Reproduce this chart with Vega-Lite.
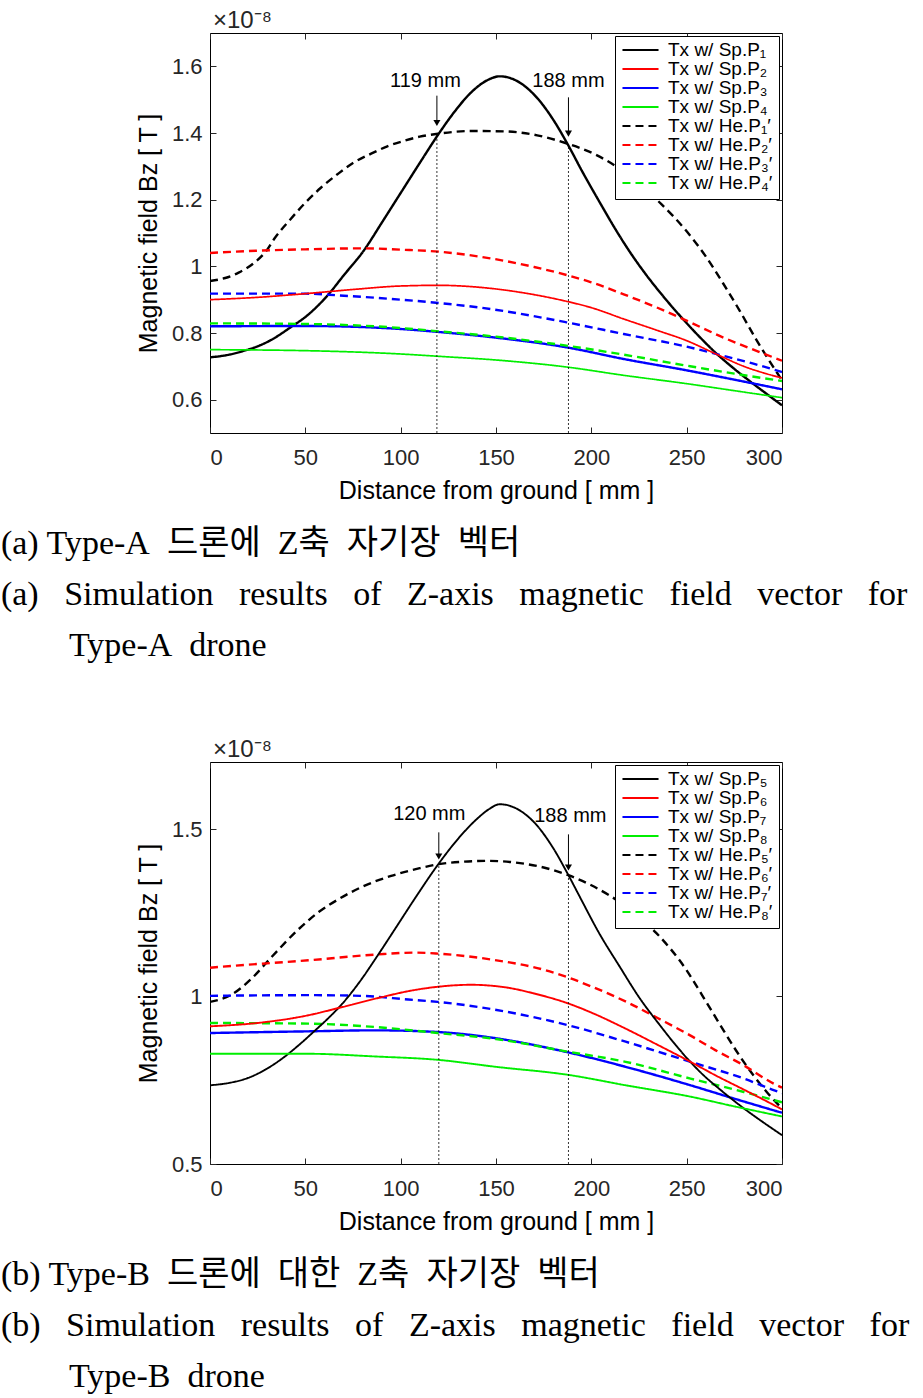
{
  "$schema": "https://vega.github.io/schema/vega-lite/v6.json",
  "background": "white",
  "padding": {"left": 0, "top": 8, "right": 4, "bottom": 0},
  "config": {
    "view": {"stroke": "#000", "strokeWidth": 1},
    "font": "Liberation Sans",
    "axis": {"grid": false, "domain": false, "labelFont": "Liberation Sans", "labelFontSize": 22, "labelColor": "#262626", "titleFont": "Liberation Sans", "titleFontSize": 25, "titleFontWeight": "normal", "titleColor": "#000", "tickColor": "#262626", "tickSize": -6},
    "legend": {"orient": "top-right", "offset": 3, "title": null, "strokeColor": "#000", "fillColor": "#fff", "padding": 6, "labelFont": "Liberation Sans", "labelFontSize": 19, "labelColor": "#000", "symbolType": "stroke", "symbolSize": 1300, "symbolStrokeWidth": 2.2, "clipHeight": 16, "rowPadding": 0, "labelOffset": 8, "cornerRadius": 0}
  },
  "datasets": {
    "A": [
      {"s": "Tx w/ Sp.P₁", "x": 0, "y": 0.727}, {"s": "Tx w/ Sp.P₁", "x": 10, "y": 0.735}, {"s": "Tx w/ Sp.P₁", "x": 18, "y": 0.747}, {"s": "Tx w/ Sp.P₁", "x": 25, "y": 0.76}, {"s": "Tx w/ Sp.P₁", "x": 32, "y": 0.779}, {"s": "Tx w/ Sp.P₁", "x": 43, "y": 0.82}, {"s": "Tx w/ Sp.P₁", "x": 50, "y": 0.848}, {"s": "Tx w/ Sp.P₁", "x": 62, "y": 0.915}, {"s": "Tx w/ Sp.P₁", "x": 70, "y": 0.972}, {"s": "Tx w/ Sp.P₁", "x": 81, "y": 1.05}, {"s": "Tx w/ Sp.P₁", "x": 90, "y": 1.13}, {"s": "Tx w/ Sp.P₁", "x": 100, "y": 1.22}, {"s": "Tx w/ Sp.P₁", "x": 110, "y": 1.31}, {"s": "Tx w/ Sp.P₁", "x": 120, "y": 1.398}, {"s": "Tx w/ Sp.P₁", "x": 128, "y": 1.462}, {"s": "Tx w/ Sp.P₁", "x": 137, "y": 1.522}, {"s": "Tx w/ Sp.P₁", "x": 145, "y": 1.557}, {"s": "Tx w/ Sp.P₁", "x": 152, "y": 1.57}, {"s": "Tx w/ Sp.P₁", "x": 160, "y": 1.559}, {"s": "Tx w/ Sp.P₁", "x": 171.6, "y": 1.505}, {"s": "Tx w/ Sp.P₁", "x": 180, "y": 1.44}, {"s": "Tx w/ Sp.P₁", "x": 188, "y": 1.362}, {"s": "Tx w/ Sp.P₁", "x": 195, "y": 1.287}, {"s": "Tx w/ Sp.P₁", "x": 204.7, "y": 1.189}, {"s": "Tx w/ Sp.P₁", "x": 213, "y": 1.108}, {"s": "Tx w/ Sp.P₁", "x": 220, "y": 1.045}, {"s": "Tx w/ Sp.P₁", "x": 227, "y": 0.988}, {"s": "Tx w/ Sp.P₁", "x": 238, "y": 0.908}, {"s": "Tx w/ Sp.P₁", "x": 248, "y": 0.842}, {"s": "Tx w/ Sp.P₁", "x": 257, "y": 0.787}, {"s": "Tx w/ Sp.P₁", "x": 265.5, "y": 0.739}, {"s": "Tx w/ Sp.P₁", "x": 274, "y": 0.697}, {"s": "Tx w/ Sp.P₁", "x": 283, "y": 0.656}, {"s": "Tx w/ Sp.P₁", "x": 292, "y": 0.617}, {"s": "Tx w/ Sp.P₁", "x": 300, "y": 0.583},
      {"s": "Tx w/ Sp.P₂", "x": 0, "y": 0.9}, {"s": "Tx w/ Sp.P₂", "x": 25, "y": 0.907}, {"s": "Tx w/ Sp.P₂", "x": 50, "y": 0.918}, {"s": "Tx w/ Sp.P₂", "x": 76, "y": 0.931}, {"s": "Tx w/ Sp.P₂", "x": 100, "y": 0.941}, {"s": "Tx w/ Sp.P₂", "x": 120, "y": 0.943}, {"s": "Tx w/ Sp.P₂", "x": 147, "y": 0.934}, {"s": "Tx w/ Sp.P₂", "x": 170, "y": 0.915}, {"s": "Tx w/ Sp.P₂", "x": 187, "y": 0.895}, {"s": "Tx w/ Sp.P₂", "x": 200, "y": 0.876}, {"s": "Tx w/ Sp.P₂", "x": 217, "y": 0.842}, {"s": "Tx w/ Sp.P₂", "x": 235, "y": 0.807}, {"s": "Tx w/ Sp.P₂", "x": 250, "y": 0.777}, {"s": "Tx w/ Sp.P₂", "x": 265, "y": 0.738}, {"s": "Tx w/ Sp.P₂", "x": 280, "y": 0.7}, {"s": "Tx w/ Sp.P₂", "x": 300, "y": 0.665},
      {"s": "Tx w/ Sp.P₃", "x": 0, "y": 0.82}, {"s": "Tx w/ Sp.P₃", "x": 50, "y": 0.821}, {"s": "Tx w/ Sp.P₃", "x": 100, "y": 0.812}, {"s": "Tx w/ Sp.P₃", "x": 120, "y": 0.803}, {"s": "Tx w/ Sp.P₃", "x": 150, "y": 0.786}, {"s": "Tx w/ Sp.P₃", "x": 187, "y": 0.757}, {"s": "Tx w/ Sp.P₃", "x": 217, "y": 0.722}, {"s": "Tx w/ Sp.P₃", "x": 250, "y": 0.688}, {"s": "Tx w/ Sp.P₃", "x": 275, "y": 0.66}, {"s": "Tx w/ Sp.P₃", "x": 300, "y": 0.631},
      {"s": "Tx w/ Sp.P₄", "x": 0, "y": 0.75}, {"s": "Tx w/ Sp.P₄", "x": 50, "y": 0.747}, {"s": "Tx w/ Sp.P₄", "x": 100, "y": 0.737}, {"s": "Tx w/ Sp.P₄", "x": 120, "y": 0.73}, {"s": "Tx w/ Sp.P₄", "x": 150, "y": 0.719}, {"s": "Tx w/ Sp.P₄", "x": 187, "y": 0.698}, {"s": "Tx w/ Sp.P₄", "x": 217, "y": 0.673}, {"s": "Tx w/ Sp.P₄", "x": 250, "y": 0.648}, {"s": "Tx w/ Sp.P₄", "x": 275, "y": 0.627}, {"s": "Tx w/ Sp.P₄", "x": 300, "y": 0.606},
      {"s": "Tx w/ He.P₁′", "x": 0, "y": 0.956}, {"s": "Tx w/ He.P₁′", "x": 8, "y": 0.965}, {"s": "Tx w/ He.P₁′", "x": 15, "y": 0.981}, {"s": "Tx w/ He.P₁′", "x": 23.5, "y": 1.012}, {"s": "Tx w/ He.P₁′", "x": 30, "y": 1.05}, {"s": "Tx w/ He.P₁′", "x": 34, "y": 1.085}, {"s": "Tx w/ He.P₁′", "x": 42, "y": 1.14}, {"s": "Tx w/ He.P₁′", "x": 49.7, "y": 1.189}, {"s": "Tx w/ He.P₁′", "x": 58, "y": 1.235}, {"s": "Tx w/ He.P₁′", "x": 67, "y": 1.277}, {"s": "Tx w/ He.P₁′", "x": 75, "y": 1.31}, {"s": "Tx w/ He.P₁′", "x": 84.5, "y": 1.338}, {"s": "Tx w/ He.P₁′", "x": 93, "y": 1.36}, {"s": "Tx w/ He.P₁′", "x": 102, "y": 1.377}, {"s": "Tx w/ He.P₁′", "x": 110, "y": 1.389}, {"s": "Tx w/ He.P₁′", "x": 120, "y": 1.398}, {"s": "Tx w/ He.P₁′", "x": 137, "y": 1.406}, {"s": "Tx w/ He.P₁′", "x": 154, "y": 1.405}, {"s": "Tx w/ He.P₁′", "x": 171.6, "y": 1.393}, {"s": "Tx w/ He.P₁′", "x": 186.4, "y": 1.37}, {"s": "Tx w/ He.P₁′", "x": 203, "y": 1.333}, {"s": "Tx w/ He.P₁′", "x": 215, "y": 1.292}, {"s": "Tx w/ He.P₁′", "x": 225, "y": 1.248}, {"s": "Tx w/ He.P₁′", "x": 237, "y": 1.185}, {"s": "Tx w/ He.P₁′", "x": 250, "y": 1.105}, {"s": "Tx w/ He.P₁′", "x": 260, "y": 1.03}, {"s": "Tx w/ He.P₁′", "x": 269, "y": 0.95}, {"s": "Tx w/ He.P₁′", "x": 278, "y": 0.865}, {"s": "Tx w/ He.P₁′", "x": 286.5, "y": 0.78}, {"s": "Tx w/ He.P₁′", "x": 293, "y": 0.72}, {"s": "Tx w/ He.P₁′", "x": 300, "y": 0.658},
      {"s": "Tx w/ He.P₂′", "x": 0, "y": 1.04}, {"s": "Tx w/ He.P₂′", "x": 25, "y": 1.047}, {"s": "Tx w/ He.P₂′", "x": 50, "y": 1.051}, {"s": "Tx w/ He.P₂′", "x": 81, "y": 1.054}, {"s": "Tx w/ He.P₂′", "x": 100, "y": 1.05}, {"s": "Tx w/ He.P₂′", "x": 120, "y": 1.044}, {"s": "Tx w/ He.P₂′", "x": 147, "y": 1.024}, {"s": "Tx w/ He.P₂′", "x": 170, "y": 0.998}, {"s": "Tx w/ He.P₂′", "x": 187, "y": 0.974}, {"s": "Tx w/ He.P₂′", "x": 200, "y": 0.952}, {"s": "Tx w/ He.P₂′", "x": 217, "y": 0.916}, {"s": "Tx w/ He.P₂′", "x": 235, "y": 0.875}, {"s": "Tx w/ He.P₂′", "x": 250, "y": 0.837}, {"s": "Tx w/ He.P₂′", "x": 269, "y": 0.787}, {"s": "Tx w/ He.P₂′", "x": 285, "y": 0.75}, {"s": "Tx w/ He.P₂′", "x": 300, "y": 0.717},
      {"s": "Tx w/ He.P₃′", "x": 0, "y": 0.918}, {"s": "Tx w/ He.P₃′", "x": 50, "y": 0.918}, {"s": "Tx w/ He.P₃′", "x": 67, "y": 0.913}, {"s": "Tx w/ He.P₃′", "x": 100, "y": 0.9}, {"s": "Tx w/ He.P₃′", "x": 120, "y": 0.89}, {"s": "Tx w/ He.P₃′", "x": 147, "y": 0.872}, {"s": "Tx w/ He.P₃′", "x": 187, "y": 0.832}, {"s": "Tx w/ He.P₃′", "x": 217, "y": 0.797}, {"s": "Tx w/ He.P₃′", "x": 250, "y": 0.759}, {"s": "Tx w/ He.P₃′", "x": 269, "y": 0.732}, {"s": "Tx w/ He.P₃′", "x": 285, "y": 0.708}, {"s": "Tx w/ He.P₃′", "x": 300, "y": 0.683},
      {"s": "Tx w/ He.P₄′", "x": 0, "y": 0.829}, {"s": "Tx w/ He.P₄′", "x": 50, "y": 0.827}, {"s": "Tx w/ He.P₄′", "x": 100, "y": 0.815}, {"s": "Tx w/ He.P₄′", "x": 120, "y": 0.805}, {"s": "Tx w/ He.P₄′", "x": 150, "y": 0.789}, {"s": "Tx w/ He.P₄′", "x": 187, "y": 0.762}, {"s": "Tx w/ He.P₄′", "x": 217, "y": 0.735}, {"s": "Tx w/ He.P₄′", "x": 250, "y": 0.702}, {"s": "Tx w/ He.P₄′", "x": 275, "y": 0.678}, {"s": "Tx w/ He.P₄′", "x": 300, "y": 0.656}
    ],
    "B": [
      {"s": "Tx w/ Sp.P₅", "x": 0, "y": 0.735}, {"s": "Tx w/ Sp.P₅", "x": 10, "y": 0.742}, {"s": "Tx w/ Sp.P₅", "x": 20, "y": 0.757}, {"s": "Tx w/ Sp.P₅", "x": 30, "y": 0.785}, {"s": "Tx w/ Sp.P₅", "x": 39.3, "y": 0.821}, {"s": "Tx w/ Sp.P₅", "x": 47, "y": 0.857}, {"s": "Tx w/ Sp.P₅", "x": 55, "y": 0.898}, {"s": "Tx w/ Sp.P₅", "x": 62, "y": 0.935}, {"s": "Tx w/ Sp.P₅", "x": 69, "y": 0.976}, {"s": "Tx w/ Sp.P₅", "x": 78, "y": 1.04}, {"s": "Tx w/ Sp.P₅", "x": 88, "y": 1.123}, {"s": "Tx w/ Sp.P₅", "x": 98, "y": 1.21}, {"s": "Tx w/ Sp.P₅", "x": 107.5, "y": 1.293}, {"s": "Tx w/ Sp.P₅", "x": 120, "y": 1.397}, {"s": "Tx w/ Sp.P₅", "x": 130, "y": 1.47}, {"s": "Tx w/ Sp.P₅", "x": 140, "y": 1.53}, {"s": "Tx w/ Sp.P₅", "x": 146, "y": 1.558}, {"s": "Tx w/ Sp.P₅", "x": 152, "y": 1.574}, {"s": "Tx w/ Sp.P₅", "x": 160, "y": 1.563}, {"s": "Tx w/ Sp.P₅", "x": 170, "y": 1.52}, {"s": "Tx w/ Sp.P₅", "x": 180, "y": 1.443}, {"s": "Tx w/ Sp.P₅", "x": 188, "y": 1.362}, {"s": "Tx w/ Sp.P₅", "x": 194, "y": 1.297}, {"s": "Tx w/ Sp.P₅", "x": 204, "y": 1.19}, {"s": "Tx w/ Sp.P₅", "x": 215, "y": 1.088}, {"s": "Tx w/ Sp.P₅", "x": 225, "y": 0.998}, {"s": "Tx w/ Sp.P₅", "x": 236, "y": 0.914}, {"s": "Tx w/ Sp.P₅", "x": 246, "y": 0.843}, {"s": "Tx w/ Sp.P₅", "x": 257, "y": 0.775}, {"s": "Tx w/ Sp.P₅", "x": 268, "y": 0.72}, {"s": "Tx w/ Sp.P₅", "x": 280, "y": 0.666}, {"s": "Tx w/ Sp.P₅", "x": 290, "y": 0.625}, {"s": "Tx w/ Sp.P₅", "x": 300, "y": 0.586},
      {"s": "Tx w/ Sp.P₆", "x": 0, "y": 0.911}, {"s": "Tx w/ Sp.P₆", "x": 25, "y": 0.921}, {"s": "Tx w/ Sp.P₆", "x": 51.6, "y": 0.944}, {"s": "Tx w/ Sp.P₆", "x": 69, "y": 0.968}, {"s": "Tx w/ Sp.P₆", "x": 90, "y": 0.998}, {"s": "Tx w/ Sp.P₆", "x": 105, "y": 1.017}, {"s": "Tx w/ Sp.P₆", "x": 119.4, "y": 1.029}, {"s": "Tx w/ Sp.P₆", "x": 137, "y": 1.035}, {"s": "Tx w/ Sp.P₆", "x": 148, "y": 1.032}, {"s": "Tx w/ Sp.P₆", "x": 156.5, "y": 1.026}, {"s": "Tx w/ Sp.P₆", "x": 170, "y": 1.009}, {"s": "Tx w/ Sp.P₆", "x": 188, "y": 0.979}, {"s": "Tx w/ Sp.P₆", "x": 200, "y": 0.952}, {"s": "Tx w/ Sp.P₆", "x": 218, "y": 0.904}, {"s": "Tx w/ Sp.P₆", "x": 235, "y": 0.855}, {"s": "Tx w/ Sp.P₆", "x": 252, "y": 0.805}, {"s": "Tx w/ Sp.P₆", "x": 265, "y": 0.765}, {"s": "Tx w/ Sp.P₆", "x": 280, "y": 0.722}, {"s": "Tx w/ Sp.P₆", "x": 290, "y": 0.693}, {"s": "Tx w/ Sp.P₆", "x": 300, "y": 0.663},
      {"s": "Tx w/ Sp.P₇", "x": 0, "y": 0.891}, {"s": "Tx w/ Sp.P₇", "x": 51.6, "y": 0.896}, {"s": "Tx w/ Sp.P₇", "x": 86.5, "y": 0.899}, {"s": "Tx w/ Sp.P₇", "x": 119.4, "y": 0.894}, {"s": "Tx w/ Sp.P₇", "x": 148, "y": 0.877}, {"s": "Tx w/ Sp.P₇", "x": 188, "y": 0.833}, {"s": "Tx w/ Sp.P₇", "x": 218, "y": 0.79}, {"s": "Tx w/ Sp.P₇", "x": 252, "y": 0.735}, {"s": "Tx w/ Sp.P₇", "x": 275, "y": 0.695}, {"s": "Tx w/ Sp.P₇", "x": 300, "y": 0.653},
      {"s": "Tx w/ Sp.P₈", "x": 0, "y": 0.829}, {"s": "Tx w/ Sp.P₈", "x": 51.6, "y": 0.829}, {"s": "Tx w/ Sp.P₈", "x": 86.5, "y": 0.821}, {"s": "Tx w/ Sp.P₈", "x": 119.4, "y": 0.811}, {"s": "Tx w/ Sp.P₈", "x": 150, "y": 0.79}, {"s": "Tx w/ Sp.P₈", "x": 188, "y": 0.766}, {"s": "Tx w/ Sp.P₈", "x": 218, "y": 0.735}, {"s": "Tx w/ Sp.P₈", "x": 252, "y": 0.701}, {"s": "Tx w/ Sp.P₈", "x": 275, "y": 0.672}, {"s": "Tx w/ Sp.P₈", "x": 300, "y": 0.642},
      {"s": "Tx w/ He.P₅′", "x": 0, "y": 0.984}, {"s": "Tx w/ He.P₅′", "x": 11.4, "y": 1.006}, {"s": "Tx w/ He.P₅′", "x": 21.9, "y": 1.054}, {"s": "Tx w/ He.P₅′", "x": 32.3, "y": 1.118}, {"s": "Tx w/ He.P₅′", "x": 46.3, "y": 1.2}, {"s": "Tx w/ He.P₅′", "x": 57, "y": 1.252}, {"s": "Tx w/ He.P₅′", "x": 67.3, "y": 1.29}, {"s": "Tx w/ He.P₅′", "x": 80, "y": 1.328}, {"s": "Tx w/ He.P₅′", "x": 95, "y": 1.36}, {"s": "Tx w/ He.P₅′", "x": 110, "y": 1.383}, {"s": "Tx w/ He.P₅′", "x": 120, "y": 1.395}, {"s": "Tx w/ He.P₅′", "x": 132, "y": 1.402}, {"s": "Tx w/ He.P₅′", "x": 145, "y": 1.405}, {"s": "Tx w/ He.P₅′", "x": 160, "y": 1.4}, {"s": "Tx w/ He.P₅′", "x": 175, "y": 1.385}, {"s": "Tx w/ He.P₅′", "x": 188, "y": 1.362}, {"s": "Tx w/ He.P₅′", "x": 200, "y": 1.332}, {"s": "Tx w/ He.P₅′", "x": 210, "y": 1.3}, {"s": "Tx w/ He.P₅′", "x": 222, "y": 1.252}, {"s": "Tx w/ He.P₅′", "x": 234, "y": 1.19}, {"s": "Tx w/ He.P₅′", "x": 250, "y": 1.078}, {"s": "Tx w/ He.P₅′", "x": 258, "y": 1.005}, {"s": "Tx w/ He.P₅′", "x": 267.5, "y": 0.916}, {"s": "Tx w/ He.P₅′", "x": 276, "y": 0.838}, {"s": "Tx w/ He.P₅′", "x": 285, "y": 0.765}, {"s": "Tx w/ He.P₅′", "x": 292, "y": 0.715}, {"s": "Tx w/ He.P₅′", "x": 300, "y": 0.666},
      {"s": "Tx w/ He.P₆′", "x": 0, "y": 1.086}, {"s": "Tx w/ He.P₆′", "x": 25, "y": 1.097}, {"s": "Tx w/ He.P₆′", "x": 51.6, "y": 1.108}, {"s": "Tx w/ He.P₆′", "x": 86.5, "y": 1.125}, {"s": "Tx w/ He.P₆′", "x": 107.5, "y": 1.131}, {"s": "Tx w/ He.P₆′", "x": 119.4, "y": 1.128}, {"s": "Tx w/ He.P₆′", "x": 148, "y": 1.11}, {"s": "Tx w/ He.P₆′", "x": 175, "y": 1.08}, {"s": "Tx w/ He.P₆′", "x": 188.2, "y": 1.056}, {"s": "Tx w/ He.P₆′", "x": 200, "y": 1.03}, {"s": "Tx w/ He.P₆′", "x": 218.4, "y": 0.984}, {"s": "Tx w/ He.P₆′", "x": 235, "y": 0.935}, {"s": "Tx w/ He.P₆′", "x": 251.8, "y": 0.884}, {"s": "Tx w/ He.P₆′", "x": 265, "y": 0.84}, {"s": "Tx w/ He.P₆′", "x": 279.8, "y": 0.795}, {"s": "Tx w/ He.P₆′", "x": 295.6, "y": 0.74}, {"s": "Tx w/ He.P₆′", "x": 300, "y": 0.728},
      {"s": "Tx w/ He.P₇′", "x": 0, "y": 1.002}, {"s": "Tx w/ He.P₇′", "x": 51.6, "y": 1.004}, {"s": "Tx w/ He.P₇′", "x": 78.7, "y": 1.002}, {"s": "Tx w/ He.P₇′", "x": 104, "y": 0.991}, {"s": "Tx w/ He.P₇′", "x": 119.4, "y": 0.984}, {"s": "Tx w/ He.P₇′", "x": 148, "y": 0.962}, {"s": "Tx w/ He.P₇′", "x": 188, "y": 0.914}, {"s": "Tx w/ He.P₇′", "x": 218, "y": 0.865}, {"s": "Tx w/ He.P₇′", "x": 252, "y": 0.805}, {"s": "Tx w/ He.P₇′", "x": 280, "y": 0.755}, {"s": "Tx w/ He.P₇′", "x": 296, "y": 0.72}, {"s": "Tx w/ He.P₇′", "x": 300, "y": 0.712},
      {"s": "Tx w/ He.P₈′", "x": 0, "y": 0.921}, {"s": "Tx w/ He.P₈′", "x": 51.6, "y": 0.919}, {"s": "Tx w/ He.P₈′", "x": 86.5, "y": 0.909}, {"s": "Tx w/ He.P₈′", "x": 119.4, "y": 0.891}, {"s": "Tx w/ He.P₈′", "x": 150, "y": 0.873}, {"s": "Tx w/ He.P₈′", "x": 188, "y": 0.835}, {"s": "Tx w/ He.P₈′", "x": 218, "y": 0.805}, {"s": "Tx w/ He.P₈′", "x": 252, "y": 0.755}, {"s": "Tx w/ He.P₈′", "x": 280, "y": 0.715}, {"s": "Tx w/ He.P₈′", "x": 300, "y": 0.684}
    ],
    "annA": [
      {"x": 119, "base": 0.5, "cross": 1.398, "top": 1.512, "tip": 1.43, "label": "119 mm", "lx": 113, "ly": 1.555},
      {"x": 188, "base": 0.5, "cross": 1.365, "top": 1.507, "tip": 1.398, "label": "188 mm", "lx": 188, "ly": 1.555}
    ],
    "annB": [
      {"x": 120, "base": 0.5, "cross": 1.397, "top": 1.49, "tip": 1.418, "label": "120 mm", "lx": 115, "ly": 1.546},
      {"x": 188, "base": 0.5, "cross": 1.362, "top": 1.484, "tip": 1.385, "label": "188 mm", "lx": 189, "ly": 1.538}
    ]
  },
  "resolve": {"scale": {"color": "independent", "strokeDash": "independent"}, "legend": {"color": "independent", "strokeDash": "independent"}},
  "spacing": 74,
  "vconcat": [
    {
      "title": {"text": ["(a) Type-A\u00a0\u00a0드론에\u00a0\u00a0Z축\u00a0\u00a0자기장\u00a0\u00a0벡터", "(a)\u00a0\u00a0\u00a0Simulation\u00a0\u00a0\u00a0results\u00a0\u00a0\u00a0of\u00a0\u00a0\u00a0Z-axis\u00a0\u00a0\u00a0magnetic\u00a0\u00a0\u00a0field\u00a0\u00a0\u00a0vector\u00a0\u00a0\u00a0for", "\u200b\u00a0\u00a0\u00a0\u00a0\u00a0\u00a0\u00a0\u00a0Type-A\u00a0\u00a0drone"], "orient": "bottom", "anchor": "start", "frame": "bounds", "dx": -135, "offset": 23, "font": "Liberation Serif, Noto Sans CJK KR, serif", "fontSize": 34, "fontWeight": "normal", "color": "#000", "lineHeight": 51},
      "resolve": {"scale": {"color": "independent", "strokeDash": "independent"}, "legend": {"color": "independent", "strokeDash": "independent"}},
      "vconcat": [
        {
          "width": 572, "height": 400,
          "title": {"text": "×10⁻⁸", "anchor": "start", "frame": "group", "orient": "top", "offset": 0, "dx": 3, "font": "Liberation Sans", "fontSize": 24, "fontWeight": "normal", "color": "#262626"},
          "resolve": {"axis": {"x": "independent", "y": "independent"}},
          "layer": [
            {
              "data": {"name": "A"},
              "transform": [{"filter": {"not": {"field": "s", "oneOf": ["Tx w/ Sp.P₂", "Tx w/ Sp.P₄"]}}}],
              "mark": {"type": "line", "strokeWidth": 2.4, "interpolate": "monotone", "clip": true},
              "encoding": {
                "x": {"field": "x", "type": "quantitative", "scale": {"domain": [0, 300], "nice": false}, "axis": {"title": "Distance from ground [ mm ]", "values": [0, 50, 100, 150, 200, 250, 300], "format": "d", "labelPadding": 20, "titlePadding": 10}},
                "y": {"field": "y", "type": "quantitative", "scale": {"domain": [0.5, 1.7], "nice": false, "zero": false}, "axis": {"title": "Magnetic field Bz [ T ]", "values": [0.6, 0.8, 1, 1.2, 1.4, 1.6], "format": ".1~f", "labelPadding": 14, "titlePadding": 10}},
                "color": {"field": "s", "type": "nominal", "sort": null, "legend": {"orient": "top-right", "offset": 3}, "scale": {"domain": ["Tx w/ Sp.P₁", "Tx w/ Sp.P₂", "Tx w/ Sp.P₃", "Tx w/ Sp.P₄", "Tx w/ He.P₁′", "Tx w/ He.P₂′", "Tx w/ He.P₃′", "Tx w/ He.P₄′"], "range": ["#000000", "#ff0000", "#0000ff", "#00ee00", "#000000", "#ff0000", "#0000ff", "#00ee00"]}},
                "strokeDash": {"field": "s", "type": "nominal", "sort": null, "legend": {"orient": "top-right", "offset": 3}, "scale": {"domain": ["Tx w/ Sp.P₁", "Tx w/ Sp.P₂", "Tx w/ Sp.P₃", "Tx w/ Sp.P₄", "Tx w/ He.P₁′", "Tx w/ He.P₂′", "Tx w/ He.P₃′", "Tx w/ He.P₄′"], "range": [[1, 0], [1, 0], [1, 0], [1, 0], [8, 5], [8, 5], [8, 5], [8, 5]]}}
              }
            },
            {
              "data": {"name": "A"},
              "transform": [{"filter": {"field": "s", "oneOf": ["Tx w/ Sp.P₂", "Tx w/ Sp.P₄"]}}],
              "mark": {"type": "line", "strokeWidth": 1.7, "interpolate": "monotone", "clip": true},
              "encoding": {
                "x": {"field": "x", "type": "quantitative", "axis": null},
                "y": {"field": "y", "type": "quantitative", "axis": null},
                "color": {"field": "s", "type": "nominal", "sort": null},
                "strokeDash": {"field": "s", "type": "nominal", "sort": null}
              }
            },
            {
              "data": {"name": "annA"},
              "mark": {"type": "rule", "color": "#000", "strokeWidth": 0.8, "strokeDash": [2, 2]},
              "encoding": {"x": {"field": "x", "type": "quantitative", "axis": null}, "y": {"field": "base", "type": "quantitative", "axis": null}, "y2": {"field": "cross"}}
            },
            {
              "data": {"name": "annA"},
              "mark": {"type": "rule", "color": "#000", "strokeWidth": 1},
              "encoding": {"x": {"field": "x", "type": "quantitative", "axis": null}, "y": {"field": "top", "type": "quantitative", "axis": null}, "y2": {"field": "tip"}}
            },
            {
              "data": {"name": "annA"},
              "mark": {"type": "point", "shape": "triangle-down", "filled": true, "color": "#000", "size": 50, "opacity": 1},
              "encoding": {"x": {"field": "x", "type": "quantitative", "axis": null}, "y": {"field": "tip", "type": "quantitative", "axis": null}}
            },
            {
              "data": {"name": "annA"},
              "mark": {"type": "text", "font": "Liberation Sans", "fontSize": 20, "color": "#000", "align": "center", "baseline": "middle"},
              "encoding": {"x": {"field": "lx", "type": "quantitative", "axis": null}, "y": {"field": "ly", "type": "quantitative", "axis": null}, "text": {"field": "label"}}
            },
            {
              "data": {"name": "annA"},
              "mark": {"type": "point", "opacity": 0},
              "encoding": {
                "x": {"field": "x", "type": "quantitative", "axis": {"orient": "top", "labels": false, "title": null, "values": [0, 50, 100, 150, 200, 250, 300]}},
                "y": {"field": "base", "type": "quantitative", "axis": {"orient": "right", "labels": false, "title": null, "values": [0.6, 0.8, 1, 1.2, 1.4, 1.6]}}
              }
            }
          ]
        }
      ]
    },
    {
      "title": {"text": ["(b) Type-B\u00a0\u00a0드론에\u00a0\u00a0대한\u00a0\u00a0Z축\u00a0\u00a0자기장\u00a0\u00a0벡터", "(b)\u00a0\u00a0\u00a0Simulation\u00a0\u00a0\u00a0results\u00a0\u00a0\u00a0of\u00a0\u00a0\u00a0Z-axis\u00a0\u00a0\u00a0magnetic\u00a0\u00a0\u00a0field\u00a0\u00a0\u00a0vector\u00a0\u00a0\u00a0for", "\u200b\u00a0\u00a0\u00a0\u00a0\u00a0\u00a0\u00a0\u00a0Type-B\u00a0\u00a0drone"], "orient": "bottom", "anchor": "start", "frame": "bounds", "dx": -135, "offset": 23, "font": "Liberation Serif, Noto Sans CJK KR, serif", "fontSize": 34, "fontWeight": "normal", "color": "#000", "lineHeight": 51},
      "resolve": {"scale": {"color": "independent", "strokeDash": "independent"}, "legend": {"color": "independent", "strokeDash": "independent"}},
      "vconcat": [
        {
          "width": 572, "height": 402,
          "title": {"text": "×10⁻⁸", "anchor": "start", "frame": "group", "orient": "top", "offset": 0, "dx": 3, "font": "Liberation Sans", "fontSize": 24, "fontWeight": "normal", "color": "#262626"},
          "resolve": {"axis": {"x": "independent", "y": "independent"}},
          "layer": [
            {
              "data": {"name": "B"},
              "transform": [{"filter": {"not": {"field": "s", "oneOf": ["Tx w/ Sp.P₆", "Tx w/ Sp.P₈", "Tx w/ Sp.P₅"]}}}],
              "mark": {"type": "line", "strokeWidth": 2.4, "interpolate": "monotone", "clip": true},
              "encoding": {
                "x": {"field": "x", "type": "quantitative", "scale": {"domain": [0, 300], "nice": false}, "axis": {"title": "Distance from ground [ mm ]", "values": [0, 50, 100, 150, 200, 250, 300], "format": "d", "labelPadding": 20, "titlePadding": 10}},
                "y": {"field": "y", "type": "quantitative", "scale": {"domain": [0.5, 1.7], "nice": false, "zero": false}, "axis": {"title": "Magnetic field Bz [ T ]", "values": [0.5, 1, 1.5], "format": ".1~f", "labelPadding": 14, "titlePadding": 10}},
                "color": {"field": "s", "type": "nominal", "sort": null, "legend": {"orient": "top-right", "offset": 3}, "scale": {"domain": ["Tx w/ Sp.P₅", "Tx w/ Sp.P₆", "Tx w/ Sp.P₇", "Tx w/ Sp.P₈", "Tx w/ He.P₅′", "Tx w/ He.P₆′", "Tx w/ He.P₇′", "Tx w/ He.P₈′"], "range": ["#000000", "#ff0000", "#0000ff", "#00ee00", "#000000", "#ff0000", "#0000ff", "#00ee00"]}},
                "strokeDash": {"field": "s", "type": "nominal", "sort": null, "legend": {"orient": "top-right", "offset": 3}, "scale": {"domain": ["Tx w/ Sp.P₅", "Tx w/ Sp.P₆", "Tx w/ Sp.P₇", "Tx w/ Sp.P₈", "Tx w/ He.P₅′", "Tx w/ He.P₆′", "Tx w/ He.P₇′", "Tx w/ He.P₈′"], "range": [[1, 0], [1, 0], [1, 0], [1, 0], [8, 5], [8, 5], [8, 5], [8, 5]]}}
              }
            },
            {
              "data": {"name": "B"},
              "transform": [{"filter": {"field": "s", "oneOf": ["Tx w/ Sp.P₆", "Tx w/ Sp.P₈", "Tx w/ Sp.P₅"]}}],
              "mark": {"type": "line", "strokeWidth": 1.9, "interpolate": "monotone", "clip": true},
              "encoding": {
                "x": {"field": "x", "type": "quantitative", "axis": null},
                "y": {"field": "y", "type": "quantitative", "axis": null},
                "color": {"field": "s", "type": "nominal", "sort": null},
                "strokeDash": {"field": "s", "type": "nominal", "sort": null}
              }
            },
            {
              "data": {"name": "annB"},
              "mark": {"type": "rule", "color": "#000", "strokeWidth": 0.8, "strokeDash": [2, 2]},
              "encoding": {"x": {"field": "x", "type": "quantitative", "axis": null}, "y": {"field": "base", "type": "quantitative", "axis": null}, "y2": {"field": "cross"}}
            },
            {
              "data": {"name": "annB"},
              "mark": {"type": "rule", "color": "#000", "strokeWidth": 1},
              "encoding": {"x": {"field": "x", "type": "quantitative", "axis": null}, "y": {"field": "top", "type": "quantitative", "axis": null}, "y2": {"field": "tip"}}
            },
            {
              "data": {"name": "annB"},
              "mark": {"type": "point", "shape": "triangle-down", "filled": true, "color": "#000", "size": 50, "opacity": 1},
              "encoding": {"x": {"field": "x", "type": "quantitative", "axis": null}, "y": {"field": "tip", "type": "quantitative", "axis": null}}
            },
            {
              "data": {"name": "annB"},
              "mark": {"type": "text", "font": "Liberation Sans", "fontSize": 20, "color": "#000", "align": "center", "baseline": "middle"},
              "encoding": {"x": {"field": "lx", "type": "quantitative", "axis": null}, "y": {"field": "ly", "type": "quantitative", "axis": null}, "text": {"field": "label"}}
            },
            {
              "data": {"name": "annB"},
              "mark": {"type": "point", "opacity": 0},
              "encoding": {
                "x": {"field": "x", "type": "quantitative", "axis": {"orient": "top", "labels": false, "title": null, "values": [0, 50, 100, 150, 200, 250, 300]}},
                "y": {"field": "base", "type": "quantitative", "axis": {"orient": "right", "labels": false, "title": null, "values": [0.5, 1, 1.5]}}
              }
            }
          ]
        }
      ]
    }
  ]
}
